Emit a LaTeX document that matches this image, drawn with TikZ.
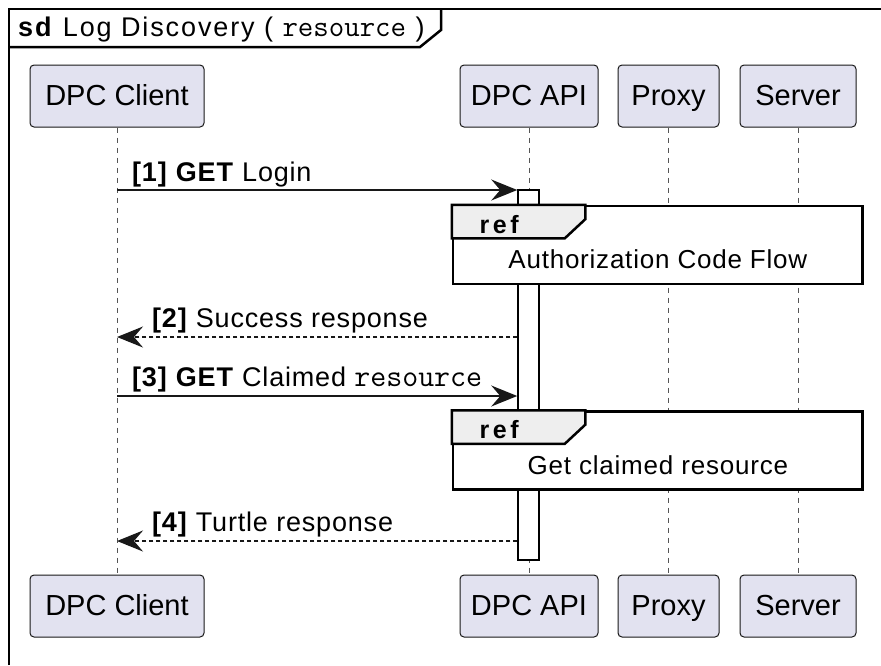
\documentclass[tikz,border=0pt]{standalone}
\usepackage{fontspec}
\setmainfont{Liberation Sans}
\newfontfamily\lblfont[LetterSpace=3]{Liberation Sans}
\newfontfamily\titlefont[LetterSpace=7]{Liberation Sans}
\newfontfamily\tabfont[LetterSpace=14]{Liberation Sans}
\usetikzlibrary{arrows.meta,positioning}
\definecolor{partfill}{HTML}{E2E2F0}
\definecolor{partline}{HTML}{181818}
\definecolor{tabfill}{HTML}{EEEEEE}
\definecolor{lifegray}{HTML}{555555}
\tikzset{
  >={Stealth[length=26pt,width=21pt,inset=9pt]},
  partbox/.style={rounded corners=4pt,draw=partline,line width=1pt,fill=partfill,
    minimum height=62pt,inner sep=0pt,text height=20pt,text depth=2pt,
    font=\fontsize{29}{33}\selectfont},
  lifeline/.style={draw=lifegray,line width=1pt,dash pattern=on 5pt off 5pt},
  actbar/.style={draw=black,line width=1.5pt,fill=white,minimum width=21pt,inner sep=0pt},
  msg/.style={->,line width=1.4pt,draw=partline},
  reply/.style={msg,dash pattern=on 4pt off 3pt},
  msglbl/.style={anchor=base west,inner sep=0pt,font=\lblfont\fontsize{27}{31}\selectfont},
  refbox/.style={draw=black,line width=2.5pt,fill=white,minimum width=409.7pt,
    minimum height=78pt,inner sep=0pt},
  reftab/.style={draw=black,line width=2.5pt,fill=tabfill},
  reftext/.style={anchor=base,inner sep=0pt,font=\lblfont\fontsize{26}{30}\selectfont},
  frameline/.style={draw=black,line width=2.5pt}
}

\begin{document}
\begin{tikzpicture}[x=1pt,y=-1pt]
  \useasboundingbox (0,0) rectangle (881,665);
  % frame and title tab
  \draw[frameline] (9,665) -- (9,9) -- (881,9);
  \draw[frameline] (9,47) -- (420,47) -- (441,30) -- (441,9);
  \node[anchor=base west,inner sep=0pt,font=\titlefont\fontsize{27}{31}\selectfont] (title) at (18,36)
    {\textbf{sd} Log Discovery ( {\ttfamily\fontsize{30}{31}\selectfont resource} )};
  % participants
  \node[partbox,minimum width=174pt] (tcli) at (117,96) {DPC Client};
  \node[partbox,minimum width=138pt] (tapi) at (529,96) {DPC API};
  \node[partbox,minimum width=101pt] (tprx) at (668.5,96) {Proxy};
  \node[partbox,minimum width=116pt] (tsrv) at (798,96) {Server};
  \node[partbox,minimum width=174pt] (bcli) at (117,606) {DPC Client};
  \node[partbox,minimum width=138pt] (bapi) at (529,606) {DPC API};
  \node[partbox,minimum width=101pt] (bprx) at (668.5,606) {Proxy};
  \node[partbox,minimum width=116pt] (bsrv) at (798,606) {Server};
  \foreach \p in {cli,api,prx,srv} \draw[lifeline] (t\p.south) -- (b\p.north);
  % activation
  \node[actbar,minimum height=370pt] (act) at (528.5,375) {};
  % messages
  \coordinate (m1) at (0,190);
  \coordinate (m2) at (0,337);
  \coordinate (m3) at (0,396);
  \coordinate (m4) at (0,541);
  \draw[msg] (tcli.south |- m1) -- (act.west |- m1);
  \draw[reply] (act.west |- m2) -- (tcli.south |- m2);
  \draw[msg] (tcli.south |- m3) -- (act.west |- m3);
  \draw[reply] (act.west |- m4) -- (tcli.south |- m4);
  \node[msglbl] (l1) at (132,181) {\textbf{[1]} \textbf{GET} Login};
  \node[msglbl] (l2) at (152,327) {\textbf{[2]} Success response};
  \node[msglbl] (l3) at (132,386) {\textbf{[3]} \textbf{GET} Claimed {\ttfamily\fontsize{31}{31}\selectfont resource}};
  \node[msglbl] (l4) at (152,531) {\textbf{[4]} Turtle response};
  % ref fragments
  \foreach \r/\y/\t in {refA/245/Authorization Code Flow,refB/450.5/Get claimed resource} {
    \node[refbox] (\r) at (657.85,\y) {};
    \draw[reftab] (\r.north west) -- ++(133.7,0) -- ++(0,14.3) -- ++(-20.7,19.3) -- ++(-113,0) -- cycle;
    \node[reftext,anchor=base west,font=\tabfont\fontsize{25}{30}\selectfont]
      at ([shift={(27.7,28.3)}]\r.north west) {\textbf{ref}};
    \node[reftext] at ([shift={(0,64)}]\r.north) {\t};
  }
\end{tikzpicture}
\end{document}
